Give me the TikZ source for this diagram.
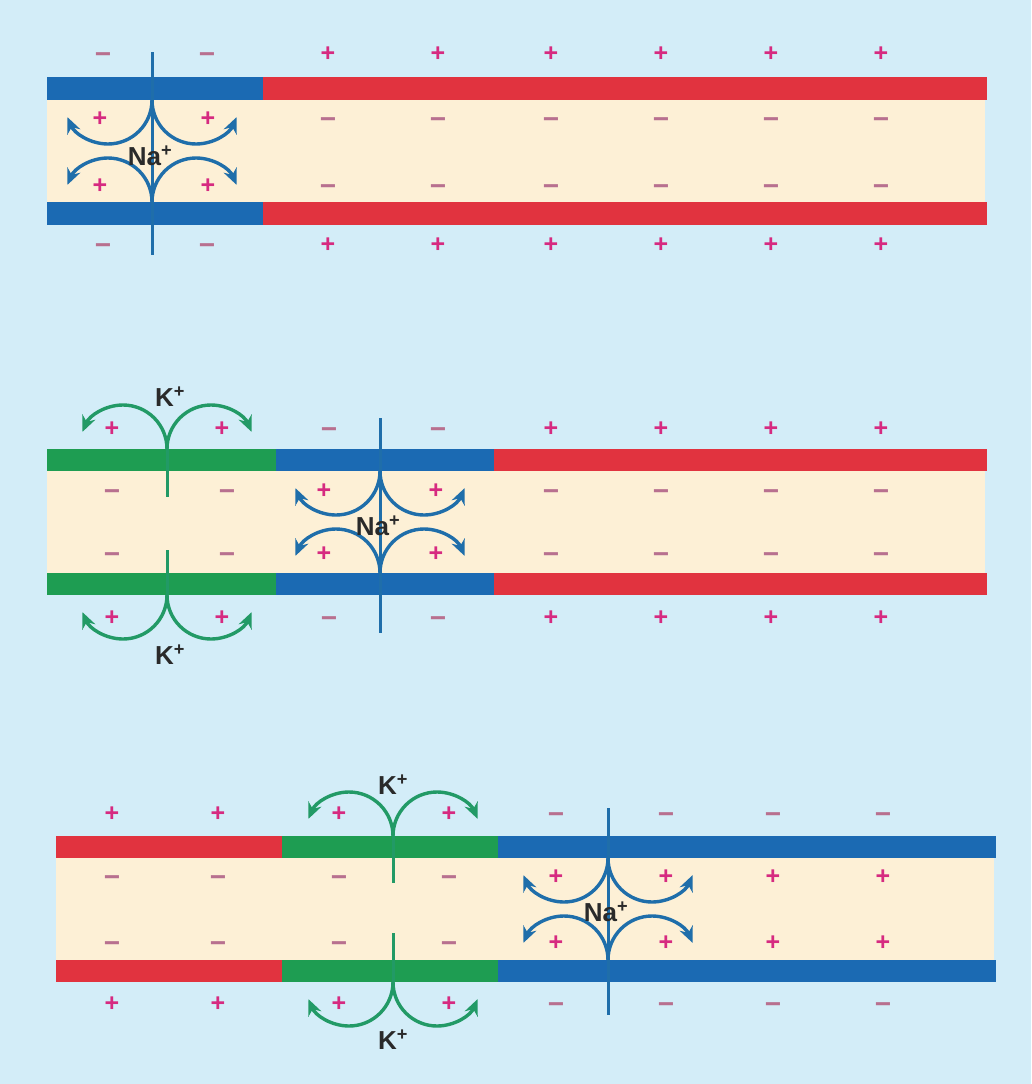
\documentclass[tikz,border=0pt]{standalone}
\usepackage{fontspec}
\setmainfont{Liberation Sans}
\usetikzlibrary{arrows.meta}
\definecolor{bg}{HTML}{D3EDF8}
\definecolor{cyto}{HTML}{FDF0D6}
\definecolor{mblue}{HTML}{1B6AB3}
\definecolor{mred}{HTML}{E1333F}
\definecolor{mgreen}{HTML}{1E9D52}
\definecolor{nablue}{HTML}{1F6EAA}
\definecolor{kgreen}{HTML}{229A66}
\definecolor{plusc}{HTML}{D62A80}
\definecolor{minusc}{HTML}{B8708F}
\definecolor{lbl}{HTML}{2A2A2A}
\newcommand{\signrow}[3]{\foreach \xx/\ss [count=\ii] in {#3} {\node (#1\ii) at (\xx,#2) [\ss];}}
\tikzset{
  chan/.style={draw=#1, line width=3pt},
  ionarc/.style={draw=#1, line width=3.4pt, -{Stealth[length=16pt,width=14pt]}},
  pl/.style={text=plusc, font=\bfseries\fontsize{25}{25}\selectfont, inner sep=0pt,
    anchor=base, yshift=-8.8pt, node contents={+}},
  mi/.style={text=minusc, font=\bfseries\fontsize{28}{28}\selectfont, inner sep=0pt,
    anchor=base, yshift=-10pt, node contents={−}},
  ion/.style={text=lbl, font=\bfseries\fontsize{26}{26}\selectfont, inner sep=0pt},
  pics/down/.style={code={
    \draw[ionarc=#1] (0,0) arc[start angle=0,end angle=-157,radius=44];
    \draw[ionarc=#1] (0,0) arc[start angle=180,end angle=337,radius=44];}},
  pics/up/.style={code={
    \draw[ionarc=#1] (0,0) arc[start angle=0,end angle=157,radius=44];
    \draw[ionarc=#1] (0,0) arc[start angle=180,end angle=23,radius=44];}},
}
\begin{document}
\begin{tikzpicture}[x=1pt,y=1pt]
\fill[bg] (0,0) rectangle (1031,-1084);
\useasboundingbox (0,0) rectangle (1031,-1084);

% ---------- Panel 1 ----------
\fill[cyto] (47,-100) rectangle (985,-202);
\fill[mblue] (47,-77) rectangle (263,-100);
\fill[mred] (263,-77) rectangle (987,-100);
\fill[mblue] (47,-202) rectangle (263,-225);
\fill[mred] (263,-202) rectangle (987,-225);
\draw[chan=nablue] (152,-52) -- (152,-255);
\pic at (152,-100) {down=nablue};
\pic at (152,-202) {up=nablue};
\node[ion] (na1) at (150,-156) {Na\textsuperscript{+}};
\signrow{aot}{-53}{103/mi,207/mi,328/pl,438/pl,551/pl,661/pl,771/pl,881/pl}
\signrow{aia}{-118}{100/pl,208/pl,328/mi,438/mi,551/mi,661/mi,771/mi,881/mi}
\signrow{aib}{-185}{100/pl,208/pl,328/mi,438/mi,551/mi,661/mi,771/mi,881/mi}
\signrow{aob}{-244}{103/mi,207/mi,328/pl,438/pl,551/pl,661/pl,771/pl,881/pl}

% ---------- Panel 2 ----------
\fill[cyto] (47,-471) rectangle (985,-573);
\fill[mgreen] (47,-449) rectangle (276,-471);
\fill[mblue] (276,-449) rectangle (494,-471);
\fill[mred] (494,-449) rectangle (987,-471);
\fill[mgreen] (47,-573) rectangle (276,-595);
\fill[mblue] (276,-573) rectangle (494,-595);
\fill[mred] (494,-573) rectangle (987,-595);
\draw[chan=kgreen] (167,-449) -- (167,-497);
\draw[chan=kgreen] (167,-550) -- (167,-595);
\pic at (167,-449) {up=kgreen};
\pic at (167,-595) {down=kgreen};
\draw[chan=nablue] (380,-418) -- (380,-633);
\pic at (380,-471) {down=nablue};
\pic at (380,-573) {up=nablue};
\node[ion] (k2t) at (170,-397) {K\textsuperscript{+}};
\node[ion] (k2b) at (170,-655) {K\textsuperscript{+}};
\node[ion] (na2) at (378,-526) {Na\textsuperscript{+}};
\signrow{bot}{-428}{112/pl,222/pl,329/mi,438/mi,551/pl,661/pl,771/pl,881/pl}
\signrow{bia}{-490}{112/mi,227/mi,324/pl,436/pl,551/mi,661/mi,771/mi,881/mi}
\signrow{bib}{-553}{112/mi,227/mi,324/pl,436/pl,551/mi,661/mi,771/mi,881/mi}
\signrow{bob}{-617}{112/pl,222/pl,329/mi,438/mi,551/pl,661/pl,771/pl,881/pl}

% ---------- Panel 3 ----------
\fill[cyto] (56,-858) rectangle (994,-960);
\fill[mred] (56,-836) rectangle (282,-858);
\fill[mgreen] (282,-836) rectangle (498,-858);
\fill[mblue] (498,-836) rectangle (996,-858);
\fill[mred] (56,-960) rectangle (282,-982);
\fill[mgreen] (282,-960) rectangle (498,-982);
\fill[mblue] (498,-960) rectangle (996,-982);
\draw[chan=kgreen] (393,-836) -- (393,-883);
\draw[chan=kgreen] (393,-933) -- (393,-982);
\pic at (393,-836) {up=kgreen};
\pic at (393,-982) {down=kgreen};
\draw[chan=nablue] (608,-808) -- (608,-1015);
\pic at (608,-858) {down=nablue};
\pic at (608,-960) {up=nablue};
\node[ion] (k3t) at (393,-785) {K\textsuperscript{+}};
\node[ion] (k3b) at (393,-1040) {K\textsuperscript{+}};
\node[ion] (na3) at (606,-912) {Na\textsuperscript{+}};
\signrow{cot}{-813}{112/pl,218/pl,339/pl,449/pl,556/mi,666/mi,773/mi,883/mi}
\signrow{cia}{-876}{112/mi,218/mi,339/mi,449/mi,556/pl,666/pl,773/pl,883/pl}
\signrow{cib}{-942}{112/mi,218/mi,339/mi,449/mi,556/pl,666/pl,773/pl,883/pl}
\signrow{cob}{-1003}{112/pl,218/pl,339/pl,449/pl,556/mi,666/mi,773/mi,883/mi}
\end{tikzpicture}
\end{document}
